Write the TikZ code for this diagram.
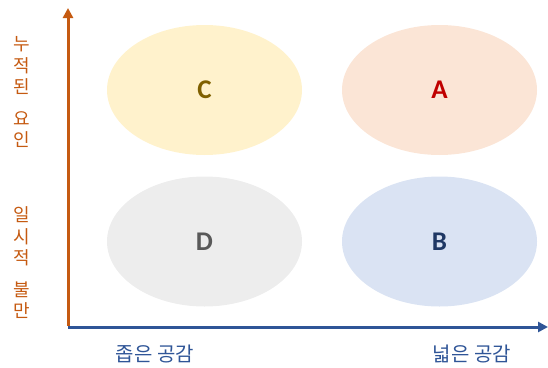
\documentclass[tikz,border=0pt]{standalone}
\usepackage{fontspec}
\setmainfont{Carlito}
\newfontfamily\kr{Noto Sans CJK KR}
\usepackage{tikz}
\usetikzlibrary{shapes.geometric,arrows.meta}

\definecolor{axisorange}{HTML}{C55A11}
\definecolor{axisblue}{HTML}{2F5597}

\begin{document}
\begin{tikzpicture}[x=1pt,y=-1pt,
    zone/.style={ellipse,minimum width=195pt,minimum height=130pt,inner sep=0pt,
      font=\fontsize{27}{30}\selectfont\bfseries},
    ylab/.style={axisorange,align=center,inner sep=0pt,font=\kr\fontsize{18}{21.5}\selectfont},
    xlab/.style={axisblue,inner sep=0pt,font=\kr\fontsize{20}{22}\selectfont}]
    \useasboundingbox (0,0) rectangle (548,367);

    % Quadrants
    \node[zone,fill={rgb,255:red,255;green,242;blue,204},text={rgb,255:red,127;green,96;blue,0}] (c) at (204.5,90) {\raisebox{-2pt}{C}};
    \node[zone,fill={rgb,255:red,251;green,229;blue,214},text={rgb,255:red,192;green,0;blue,0}] (a) at (439.5,90) {\raisebox{-2pt}{A}};
    \node[zone,fill={rgb,255:red,237;green,237;blue,237},text={rgb,255:red,89;green,89;blue,89}] (d) at (204.5,241.5) {\raisebox{-2pt}{D}};
    \node[zone,fill={rgb,255:red,218;green,227;blue,243},text={rgb,255:red,31;green,56;blue,100}] (b) at (439.5,241.5) {\raisebox{-2pt}{B}};

    % Axes
    \coordinate (origin) at (68,327);
    \coordinate (ytip) at (68,8);
    \coordinate (xtip) at (548,327);
    \draw[axisorange,line width=3pt,-{Triangle[length=10pt,width=10pt]}] ([yshift=1.5pt]origin) -- (ytip);
    \draw[axisblue,line width=3pt,-{Triangle[length=10pt,width=10pt]}] (origin) -- (xtip);

    % Labels
    \node[ylab] (high) at (22,92) {누\\적\\된\\[10pt]요\\인};
    \node[ylab] (low) at (22,263) {일\\시\\적\\[10pt]불\\만};
    \node[xlab] (narrow) at (155,354) {좁은 공감};
    \node[xlab] (wide) at (472,354) {넓은 공감};
\end{tikzpicture}
\end{document}
